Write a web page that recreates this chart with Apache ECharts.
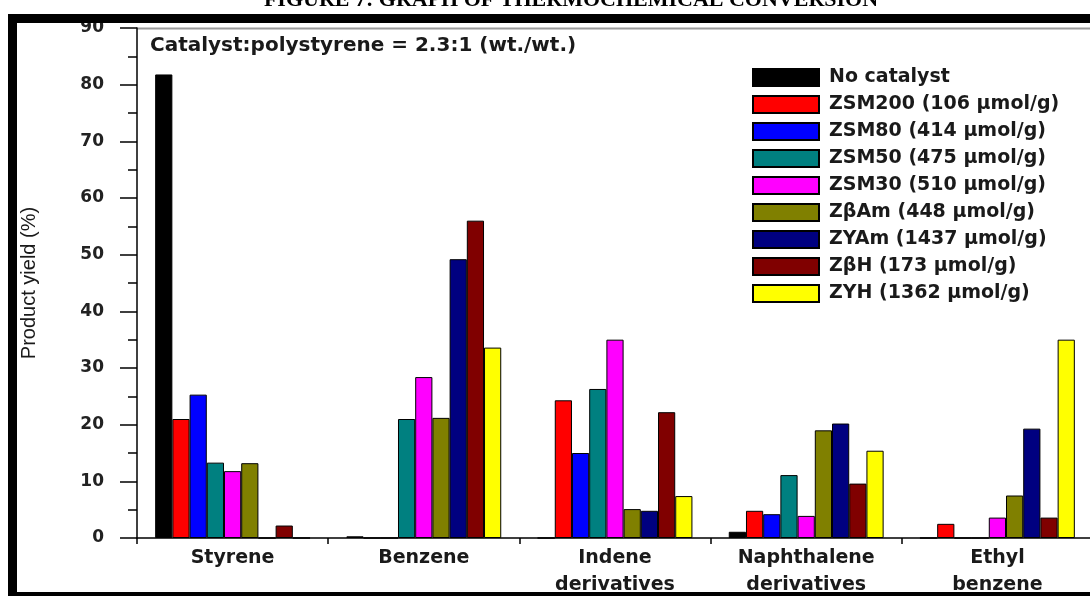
<!DOCTYPE html>
<html>
<head>
<meta charset="utf-8">
<script src="https://cdn.jsdelivr.net/npm/echarts@6/dist/echarts.min.js"></script>
<style>
  html, body { margin: 0; padding: 0; background: #fff; }
  #chart { width: 1090px; height: 596px; }
</style>
</head>
<body>
<div id="chart"></div>
<script>
// Product groups on the x axis
const categories = ['Styrene', 'Benzene', 'Indene\nderivatives', 'Naphthalene\nderivatives', 'Ethyl\nbenzene'];

// Yield (%) per catalyst, one value per product group
const noCatalyst = [81.8, 0.3, 0, 1.1, 0];
const zsm200 = [21.0, 0, 24.3, 4.8, 2.5];
const zsm80 = [25.3, 0, 15.0, 4.2, 0];
const zsm50 = [13.3, 21.0, 26.3, 11.1, 0];
const zsm30 = [11.8, 28.4, 35.0, 3.9, 3.6];
const zBetaAm = [13.2, 21.2, 5.1, 19.0, 7.5];
const zyAm = [0, 49.2, 4.8, 20.2, 19.3];
const zBetaH = [2.2, 56.0, 22.2, 9.6, 3.6];
const zyH = [0, 33.6, 7.4, 15.4, 35.0];

const seriesNames = [
  'No catalyst',
  'ZSM200 (106 µmol/g)',
  'ZSM80 (414 µmol/g)',
  'ZSM50 (475 µmol/g)',
  'ZSM30 (510 µmol/g)',
  'ZβAm (448 µmol/g)',
  'ZYAm (1437 µmol/g)',
  'ZβH (173 µmol/g)',
  'ZYH (1362 µmol/g)'
];
const seriesData = [noCatalyst, zsm200, zsm80, zsm50, zsm30, zBetaAm, zyAm, zBetaH, zyH];
const seriesColors = ['#000000', '#ff0000', '#0000ff', '#008080', '#ff00ff', '#808000', '#000080', '#800000', '#ffff00'];

const boldSans = 'DejaVu Sans, Verdana, sans-serif';

const chart = echarts.init(document.getElementById('chart'), null, { renderer: 'canvas' });

const option = {
  backgroundColor: '#ffffff',
  animation: false,
  grid: { left: 137, top: 28, width: 956, height: 510, containLabel: false, outerBoundsMode: 'none' },
  legend: {
    orient: 'vertical',
    left: 752,
    top: 68,
    padding: 0,
    itemWidth: 66,
    itemHeight: 17,
    itemGap: 8,
    icon: 'rect',
    data: seriesNames,
    textStyle: {
      fontFamily: boldSans,
      fontWeight: 'bold',
      fontSize: 19,
      color: '#1a1a1a',
      lineHeight: 17,
      padding: [0, 0, 0, 5]
    }
  },
  xAxis: {
    type: 'category',
    data: categories,
    boundaryGap: true,
    axisLine: { lineStyle: { color: '#000', width: 1.5 } },
    axisTick: { show: true, length: 6, lineStyle: { color: '#000', width: 1.5 } },
    axisLabel: {
      margin: 7,
      fontFamily: boldSans,
      fontWeight: 'bold',
      fontSize: 19,
      lineHeight: 27,
      color: '#1a1a1a'
    }
  },
  yAxis: {
    type: 'value',
    min: 0,
    max: 90,
    interval: 10,
    name: 'Product yield (%)',
    nameLocation: 'middle',
    nameGap: 98,
    nameRotate: 90,
    nameTextStyle: {
      fontFamily: 'Liberation Sans Narrow, Arial Narrow, Liberation Sans, sans-serif',
      fontSize: 20,
      color: '#1a1a1a'
    },
    axisLine: { show: true, lineStyle: { color: '#000', width: 1.5 } },
    axisTick: { show: true, length: 17, lineStyle: { color: '#000', width: 1.5 } },
    minorTick: { show: true, splitNumber: 2, length: 9, lineStyle: { color: '#000', width: 1.5 } },
    splitLine: { show: false },
    axisLabel: {
      margin: 33,
      fontFamily: boldSans,
      fontWeight: 'bold',
      fontSize: 17,
      color: '#222'
    }
  },
  series: seriesNames.map((name, i) => ({
    name: name,
    type: 'bar',
    data: seriesData[i],
    barGap: '0%',
    barCategoryGap: '19%',
    itemStyle: { color: seriesColors[i], borderColor: '#000', borderWidth: 1 }
  })),
  graphic: [
    {
      type: 'text',
      left: 150,
      top: 36,
      style: {
        text: 'Catalyst:polystyrene = 2.3:1 (wt./wt.)',
        font: 'bold 20px ' + boldSans,
        fill: '#1a1a1a'
      }
    },
    // figure caption, clipped by the top edge of the page
    {
      type: 'text',
      x: 571,
      y: 11,
      style: {
        text: 'FIGURE 7: GRAPH OF THERMOCHEMICAL CONVERSION',
        font: 'bold 22px Liberation Serif, Times New Roman, serif',
        fill: '#000',
        align: 'center',
        verticalAlign: 'bottom'
      }
    },
    // top rule of the plot box
    {
      type: 'line',
      shape: { x1: 137, y1: 28.5, x2: 1090, y2: 28.5 },
      style: { stroke: '#9a9a9a', lineWidth: 2 }
    },
    // black frame around the figure
    { type: 'rect', z: 100, shape: { x: 8, y: 14, width: 1082, height: 9 }, style: { fill: '#000' } },
    { type: 'rect', z: 100, shape: { x: 8, y: 14, width: 9, height: 582 }, style: { fill: '#000' } },
    { type: 'rect', z: 100, shape: { x: 8, y: 592, width: 1082, height: 4 }, style: { fill: '#000' } }
  ]
};

chart.setOption(option);
</script>
</body>
</html>
